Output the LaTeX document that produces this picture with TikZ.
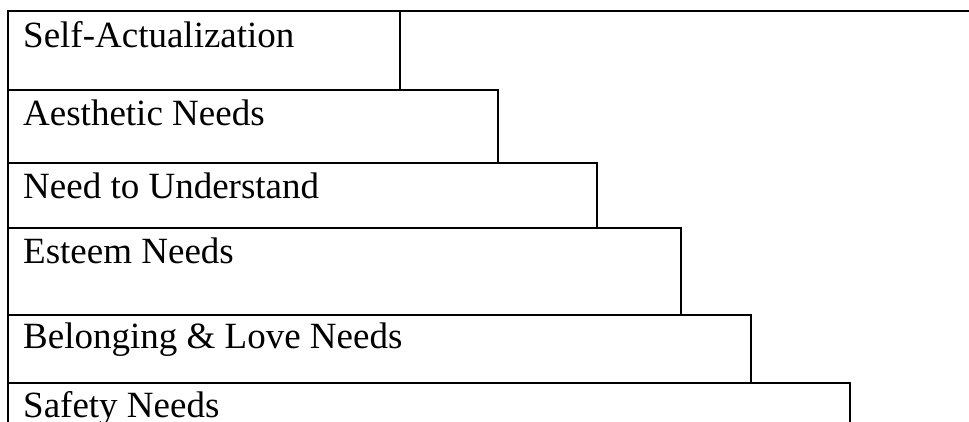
\documentclass[tikz,border=0pt]{standalone}
\usepackage{fontspec}
\setmainfont{Liberation Serif}
\begin{document}
\begin{tikzpicture}[x=1pt,y=-1pt,
  rule/.style={draw=black,line width=2.5pt},
  label/.style={anchor=base west,inner sep=0pt,font=\fontsize{37}{44}\selectfont}]
\useasboundingbox (0,0) rectangle (969,421);
\clip (0,0) rectangle (969,421);
% top rule across the full width
\draw[rule] (8,11) -- (975,11);
% stacked levels, each wider than the one above
\draw[rule] (8,11)  rectangle (400,90);
\draw[rule] (8,90)  rectangle (498,163);
\draw[rule] (8,163) rectangle (597,228);
\draw[rule] (8,228) rectangle (681,315);
\draw[rule] (8,315) rectangle (751,383);
\draw[rule] (8,383) rectangle (850,440);
% level names
\node[label] (selfact)  at (23,47)  {Self-Actualization};
\node[label] (aesth)    at (23,125) {Aesthetic Needs};
\node[label] (underst)  at (23,198) {Need to Understand};
\node[label] (esteem)   at (23,263) {Esteem Needs};
\node[label] (belong)   at (23,348) {Belonging \& Love Needs};
\node[label] (safety)   at (23,417) {Safety Needs};
\end{tikzpicture}
\end{document}
